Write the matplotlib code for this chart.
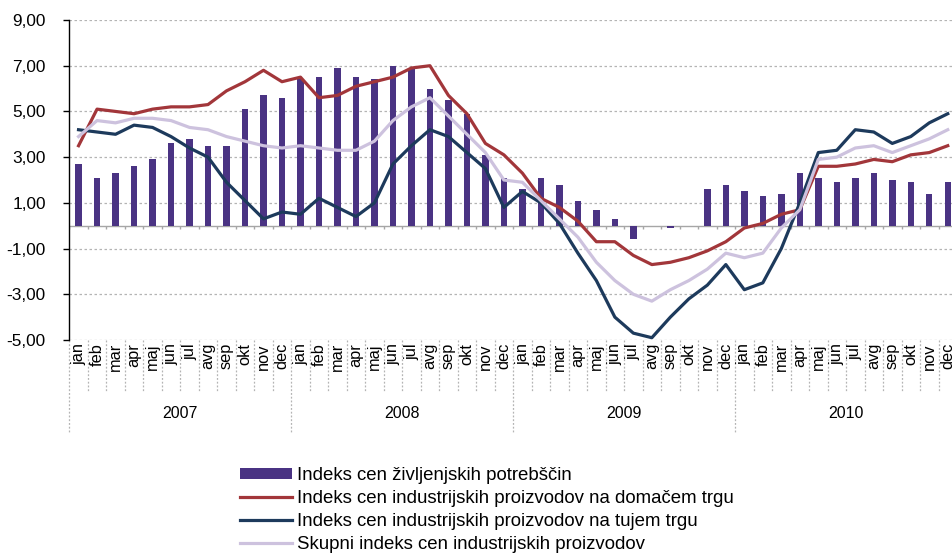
import numpy as np
import matplotlib
matplotlib.use("Agg")
import matplotlib.pyplot as plt

plt.rcParams['font.family'] = ['Liberation Sans', 'DejaVu Sans']

months = ["jan", "feb", "mar", "apr", "maj", "jun", "jul", "avg", "sep", "okt", "nov", "dec"]
years = ["2007", "2008", "2009", "2010"]

# Indeks cen življenjskih potrebščin (bars)
cpi = [2.7, 2.1, 2.3, 2.6, 2.9, 3.6, 3.8, 3.5, 3.5, 5.1, 5.7, 5.6,
       6.4, 6.5, 6.9, 6.5, 6.4, 7.0, 6.9, 6.0, 5.5, 4.9, 3.1, 2.1,
       1.6, 2.1, 1.8, 1.1, 0.7, 0.3, -0.6, 0.0, -0.1, 0.0, 1.6, 1.8,
       1.5, 1.3, 1.4, 2.3, 2.1, 1.9, 2.1, 2.3, 2.0, 1.9, 1.4, 1.9]
# na domačem trgu
domestic = [3.5, 5.1, 5.0, 4.9, 5.1, 5.2, 5.2, 5.3, 5.9, 6.3, 6.8, 6.3,
            6.5, 5.6, 5.7, 6.1, 6.3, 6.5, 6.9, 7.0, 5.7, 4.9, 3.6, 3.1,
            2.3, 1.2, 0.8, 0.2, -0.7, -0.7, -1.3, -1.7, -1.6, -1.4, -1.1, -0.7,
            -0.1, 0.1, 0.5, 0.7, 2.6, 2.6, 2.7, 2.9, 2.8, 3.1, 3.2, 3.5]
# na tujem trgu
foreign = [4.2, 4.1, 4.0, 4.4, 4.3, 3.9, 3.4, 3.0, 1.9, 1.1, 0.3, 0.6,
           0.5, 1.2, 0.8, 0.4, 1.0, 2.7, 3.5, 4.2, 3.9, 3.2, 2.5, 0.8,
           1.5, 1.0, 0.1, -1.2, -2.4, -4.0, -4.7, -4.9, -4.0, -3.2, -2.6, -1.7,
           -2.8, -2.5, -1.0, 1.0, 3.2, 3.3, 4.2, 4.1, 3.6, 3.9, 4.5, 4.9]
# skupni indeks
total = [3.9, 4.6, 4.5, 4.7, 4.7, 4.6, 4.3, 4.2, 3.9, 3.7, 3.5, 3.4,
         3.5, 3.4, 3.3, 3.3, 3.7, 4.6, 5.2, 5.6, 4.8, 4.0, 3.2, 2.0,
         1.9, 1.1, 0.3, -0.5, -1.6, -2.4, -3.0, -3.3, -2.8, -2.4, -1.9, -1.2,
         -1.4, -1.2, -0.1, 0.7, 2.9, 3.0, 3.4, 3.5, 3.2, 3.5, 3.8, 4.2]

yticks = [-5, -3, -1, 1, 3, 5, 7, 9]
ytick_labels = ["-5,00", "-3,00", "-1,00", "1,00", "3,00", "5,00", "7,00", "9,00"]

labels = ["Indeks cen življenjskih potrebščin",
          "Indeks cen industrijskih proizvodov na domačem trgu",
          "Indeks cen industrijskih proizvodov na tujem trgu",
          "Skupni indeks cen industrijskih proizvodov"]

W, H = 953, 553
fig = plt.figure(figsize=(W / 100, H / 100), dpi=100)
left, right, top, bottom = 69.3, 957, 20, 340
ax = fig.add_axes([left / W, 1 - bottom / H, (right - left) / W, (bottom - top) / H])

x = np.arange(len(cpi))
n = len(x)

ax.set_xlim(-0.5, n - 0.5)
ax.set_ylim(-5, 9)

# dotted grid
for v in yticks:
    ax.axhline(v, color="#b4b4b4", lw=0.9, ls=(0, (2, 2)), zorder=0)

bars = ax.bar(x, cpi, width=0.35, color="#4a3383", zorder=2)
ax.axhline(0, color="#a6a6a6", lw=1.0, zorder=1)
ax.vlines(np.arange(n + 1) - 0.5, -0.15, 0, color="#a6a6a6", lw=1.0, zorder=1)

l1, = ax.plot(x, domestic, color="#a2363a", lw=2.3, zorder=3)
l2, = ax.plot(x, foreign, color="#1d3a5c", lw=2.3, zorder=3)
l3, = ax.plot(x, total, color="#cdc2de", lw=2.3, zorder=3)

for s in ["top", "right", "bottom"]:
    ax.spines[s].set_visible(False)
ax.spines["left"].set_color("black")
ax.spines["left"].set_linewidth(1.0)
ax.set_yticks(yticks)
ax.set_yticklabels(ytick_labels, fontsize=12.4)
ax.tick_params(axis="y", length=4, width=1.0, pad=13)
ax.set_xticks([])

# month / year category axis
tr = ax.get_xaxis_transform()
ph = bottom - top
for i in range(n):
    ax.text(x[i], -3 / ph, months[i % 12], rotation=90, ha="center", va="top",
            fontsize=11.8, transform=tr, clip_on=False)
for b in range(n + 1):
    y1 = -92 / ph if b % 12 == 0 else -52 / ph
    ax.plot([b - 0.5, b - 0.5], [0, y1], color="#b4b4b4", lw=0.9, ls=(0, (1.5, 1.5)),
            transform=tr, clip_on=False)
for k, yr in enumerate(years):
    ax.text(12 * k + 5.5, -73 / ph, yr, ha="center", va="center", fontsize=11.5,
            transform=tr, clip_on=False)

fig.legend([bars, l1, l2, l3], labels, loc="upper left",
           bbox_to_anchor=(240 / W, 1 - 467 / H), frameon=False, fontsize=13.4,
           handlelength=2.8, handleheight=0.55, handletextpad=0.27,
           labelspacing=0.33, borderpad=0, borderaxespad=0)

fig.savefig("out.png", dpi=100)
